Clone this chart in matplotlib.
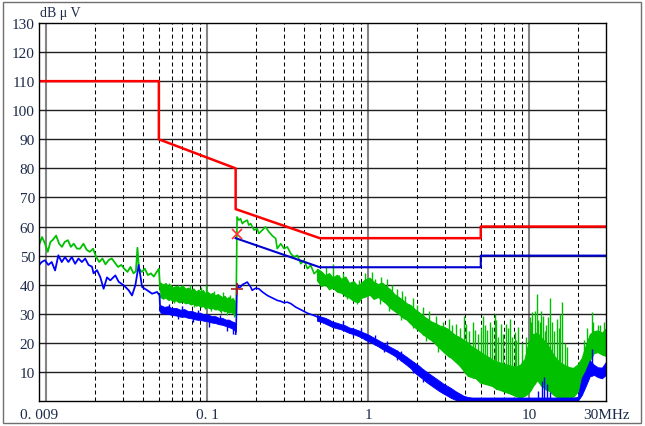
import matplotlib
matplotlib.use('Agg')
import numpy as np
import matplotlib.pyplot as plt
from matplotlib.patches import Rectangle

plt.rcParams['font.family'] = ['Liberation Serif', 'DejaVu Serif']

# limit lines (MHz, dBuV)
qp_f = [0.009, 0.05, 0.05, 0.15, 0.15, 0.5, 5, 5, 30]
qp_v = [110, 110, 90, 80, 66, 56, 56, 60, 60]
av_f = [0.15, 0.5, 5, 5, 30]
av_v = [56, 46, 46, 50, 50]

# peak trace (green)
pk_a_f = [0.0090, 0.0094, 0.0098, 0.0102, 0.0106, 0.0110, 0.0115, 0.0120, 0.0125, 0.0130,
          0.0136, 0.0142, 0.0148, 0.0155, 0.0162, 0.0170, 0.0178, 0.0186, 0.0195, 0.0204,
          0.0213, 0.0223, 0.0233, 0.0244, 0.0255, 0.0267, 0.0279, 0.0292, 0.0305, 0.0319,
          0.0333, 0.0348, 0.0360, 0.0368, 0.0376, 0.0392, 0.0409, 0.0427, 0.0446, 0.0465,
          0.0485, 0.0500, 0.0510]
pk_a_v = [53.6, 56.4, 54.2, 51.3, 54.7, 55.5, 56.9, 54.1, 53.0, 54.7,
          55.3, 53.0, 54.1, 52.4, 52.4, 54.1, 52.0, 51.3, 52.4, 49.5,
          47.8, 49.0, 47.0, 48.5, 49.0, 47.5, 46.1, 46.8, 45.5, 44.4,
          46.1, 43.9, 44.6, 52.7, 45.5, 44.4, 45.5, 43.3, 43.9, 42.8,
          44.4, 45.5, 38.0]

pk_b_f = [0.051, 0.053, 0.055, 0.057, 0.059, 0.061, 0.064, 0.067, 0.070, 0.073, 0.076,
          0.079, 0.082, 0.085, 0.088, 0.091, 0.094, 0.097, 0.100, 0.104, 0.108, 0.112,
          0.116, 0.120, 0.124, 0.128, 0.132, 0.136, 0.140, 0.144, 0.148, 0.150]
pk_b_hi = [40.8, 40.0, 40.6, 39.4, 40.0, 39.0, 39.6, 39.0, 39.8, 38.6, 39.0,
           38.2, 38.7, 37.6, 38.3, 37.6, 38.2, 37.0, 37.6, 36.8, 37.2, 36.3,
           36.8, 36.2, 35.6, 36.2, 35.2, 35.8, 35.0, 35.4, 34.2, 33.8]
pk_b_lo = [35.8, 35.2, 35.6, 34.8, 35.0, 34.4, 34.6, 33.9, 34.3, 33.6, 33.8,
           33.2, 33.5, 32.8, 33.0, 32.4, 32.7, 32.0, 32.3, 31.8, 32.0, 31.5,
           31.6, 31.0, 31.3, 30.8, 31.0, 30.4, 30.6, 30.2, 29.8, 29.6]

pk_c_f = [0.150, 0.151, 0.153, 0.157, 0.161, 0.165, 0.169, 0.177, 0.181, 0.186, 0.195,
          0.204, 0.209, 0.220, 0.230, 0.241, 0.254, 0.266, 0.272, 0.286, 0.300, 0.314,
          0.330, 0.346, 0.363, 0.381, 0.399, 0.419, 0.439, 0.461, 0.484, 0.507]
pk_c_v = [30.0, 31.0, 63.3, 62.2, 62.7, 61.0, 61.6, 62.2, 60.5, 61.0, 58.8,
          59.3, 57.6, 58.8, 59.9, 58.2, 56.8, 55.9, 52.4, 54.1, 52.4, 53.0,
          50.7, 49.5, 50.1, 47.2, 48.4, 45.5, 46.7, 43.8, 44.9, 42.6]

hf_f = [0.48, 0.51, 0.54, 0.57, 0.60, 0.64, 0.68, 0.72, 0.76, 0.81, 0.86, 0.91,
        0.96, 1.02, 1.08, 1.15, 1.22, 1.29, 1.37, 1.45, 1.54, 1.63, 1.73, 1.83,
        1.94, 2.06, 2.18, 2.31, 2.45, 2.60, 2.76, 2.92, 3.10, 3.28, 3.48, 3.69,
        3.91, 4.14, 4.39, 4.66, 4.94, 5.23, 5.55, 5.88, 6.23, 6.61, 7.00, 7.42,
        7.87, 8.34, 8.84, 9.37, 9.93, 10.5, 11.2, 11.8, 12.5, 13.3, 14.1, 14.9,
        15.8, 16.8, 17.8, 18.8, 20.0, 21.2, 22.4, 23.8, 25.2, 26.7, 28.3, 30.0]
pk_d_lo = [41.5, 39.5, 40.2, 38.4, 39.0, 37.6, 37.2, 36.1, 35.6, 34.4, 34.0, 35.5,
           36.0, 36.6, 35.1, 35.8, 34.6, 33.6, 32.0, 31.0, 30.0, 28.8, 28.0, 26.6,
           25.4, 24.2, 23.0, 22.0, 21.0, 19.8, 18.3, 17.0, 15.7, 14.8, 13.5, 12.2,
           10.4, 8.7, 8.2, 7.8, 6.4, 6.0, 5.6, 5.2, 4.2, 3.8, 3.2, 2.8,
           2.2, 1.6, 1.2, 1.8, 2.8, 5.0, 7.2, 5.5, 4.2, 3.5, 2.2, 1.3,
           0.8, 0.7, 0.9, 1.5, 3.2, 5.5, 9.5, 14.0, 16.5, 16.8, 16.0, 15.5]
pk_d_hi = [45.5, 44.6, 43.2, 44.0, 42.5, 43.4, 42.0, 42.8, 40.6, 41.2, 39.6, 40.8,
           41.9, 42.4, 41.0, 40.2, 40.7, 39.4, 38.4, 36.8, 35.8, 34.8, 33.6, 33.0,
           31.6, 30.6, 29.4, 28.4, 27.4, 26.8, 26.0, 25.6, 24.9, 23.8, 22.6, 22.0,
           21.0, 20.2, 18.8, 17.9, 17.0, 16.0, 15.2, 14.3, 13.6, 13.2, 12.8, 12.4,
           12.0, 11.8, 12.6, 14.5, 20.5, 23.0, 23.5, 22.0, 20.5, 18.5, 16.0, 14.2,
           13.0, 12.2, 11.6, 11.4, 12.6, 14.8, 19.0, 23.0, 24.0, 24.3, 23.5, 25.0]

pk_spike_f = [0.058, 0.066, 0.078, 0.092, 0.098, 0.110, 0.125, 0.138,
              0.55, 0.60, 0.66, 0.70, 0.88, 0.95, 1.05, 1.10, 1.20, 1.30, 1.40, 1.50,
              1.62, 1.70, 1.90, 2.00, 2.20, 2.40, 2.64, 2.90, 3.19, 3.30, 3.52, 3.70,
              3.96, 4.05, 4.20, 4.47, 4.60, 4.80, 5.00, 5.16, 5.30, 5.45, 5.67, 5.90,
              6.09, 6.20, 6.40, 6.71, 6.90, 7.21, 7.40, 7.56, 7.80, 8.12, 8.30, 8.52,
              9.00, 9.60, 10.06, 10.2, 10.4, 10.8, 11.1, 11.3, 11.6, 11.9, 12.2, 12.6,
              12.8, 13.0, 13.4, 13.8, 14.2, 14.8, 15.3, 15.6, 16.0, 16.6, 17.2,
              22.0, 23.0, 24.4, 25.0, 26.9, 27.5, 29.0]
pk_spike_v = [40.5, 40.0, 39.8, 39.2, 40.0, 37.8, 37.5, 36.5,
              46.0, 47.2, 43.5, 44.0, 41.5, 44.0, 44.5, 42.0, 42.6, 42.0, 40.0, 38.5,
              38.0, 36.0, 35.5, 33.0, 32.5, 31.0, 29.4, 27.0, 28.3, 26.0, 26.5, 25.0,
              29.4, 26.5, 24.0, 27.1, 24.5, 23.0, 25.0, 29.4, 26.0, 24.5, 27.1, 25.5,
              30.0, 28.0, 22.0, 26.6, 23.0, 26.6, 25.0, 28.3, 22.0, 23.7, 21.0, 25.4,
              20.0, 22.0, 28.8, 27.0, 30.5, 31.0, 36.9, 28.0, 27.0, 31.0, 29.4, 24.0,
              26.0, 29.0, 35.4, 27.0, 24.0, 28.3, 25.0, 30.0, 34.0, 20.0, 18.5,
              21.0, 25.0, 30.6, 27.0, 26.0, 26.0, 27.0]
pk_dip_f = [0.062, 0.083, 0.097, 0.105, 0.121, 0.133, 0.146,
            0.74, 0.85, 0.87, 1.18, 1.35, 1.60, 1.90, 2.30, 2.70]
pk_dip_v = [33.8, 32.4, 31.5, 30.8, 30.2, 29.6, 29.0,
            35.0, 33.5, 34.0, 33.5, 31.0, 28.0, 25.0, 20.8, 17.0]

# average trace (blue)
av_a_f = [0.0090, 0.00935, 0.0098, 0.01028, 0.01079, 0.01133, 0.01187, 0.01246, 0.01306,
          0.0137, 0.01439, 0.01509, 0.01583, 0.01662, 0.01743, 0.01828, 0.0192, 0.01964,
          0.02063, 0.02163, 0.02268, 0.02381, 0.02497, 0.02683, 0.02813, 0.03022, 0.03245,
          0.03406, 0.03572, 0.03747, 0.03934, 0.04226, 0.04539, 0.04875, 0.0505, 0.0510]
av_a_v = [46.7, 47.8, 48.4, 46.8, 47.8, 44.9, 50.1, 47.8, 49.5,
          47.8, 49.5, 47.2, 49.0, 47.8, 49.0, 46.8, 46.2, 43.9,
          45.0, 42.6, 38.6, 42.5, 41.5, 43.2, 41.0, 39.8, 38.1,
          36.3, 39.8, 46.8, 39.2, 38.1, 36.9, 37.5, 36.3, 31.0]

av_b_f = [0.051, 0.054, 0.057, 0.060, 0.064, 0.068, 0.072, 0.076, 0.080, 0.085, 0.090,
          0.095, 0.100, 0.106, 0.112, 0.118, 0.124, 0.130, 0.136, 0.142, 0.147, 0.150]
av_b_hi = [33.0, 32.4, 32.6, 32.0, 32.0, 31.4, 31.6, 30.9, 31.0, 30.4, 30.4,
           29.8, 29.9, 29.2, 29.2, 28.6, 28.6, 28.0, 28.0, 27.4, 27.1, 26.8]
av_b_lo = [30.4, 30.0, 30.0, 29.6, 29.4, 29.0, 29.0, 28.6, 28.4, 28.0, 27.9,
           27.6, 27.4, 27.0, 26.8, 26.4, 26.2, 25.8, 25.4, 25.0, 24.4, 23.8]

av_c_f = [0.150, 0.151, 0.153, 0.157, 0.161, 0.165, 0.169, 0.177, 0.186, 0.190, 0.200,
          0.209, 0.220, 0.236, 0.248, 0.259, 0.272, 0.286, 0.300, 0.314, 0.330, 0.354,
          0.381, 0.419, 0.461, 0.507]
av_c_v = [23.0, 24.5, 40.3, 39.0, 39.2, 40.0, 40.3, 40.9, 39.2, 38.1, 38.8,
          38.6, 37.5, 36.3, 35.7, 35.2, 34.6, 34.3, 33.8, 34.0, 33.5, 32.3,
          31.4, 30.2, 29.4, 28.4]

av_d_lo = [27.6, 27.2, 26.6, 26.0, 25.4, 25.0, 24.6, 24.0, 23.4, 23.0, 22.4, 21.8,
           21.0, 20.4, 19.6, 18.8, 17.9, 17.2, 16.4, 15.6, 14.6, 13.5, 12.4, 11.3,
           9.8, 8.6, 7.6, 6.4, 5.4, 4.4, 3.4, 2.6, 1.8, 1.0, 0.4, 0.0,
           0.0, 0.0, 0.0, 0.0, 0.0, 0.0, 0.0, 0.0, 0.0, 0.0, 0.0, 0.0,
           0.0, 0.0, 0.0, 0.0, 0.0, 0.0, 0.0, 0.0, 0.0, 0.0, 0.0, 0.0,
           0.0, 0.0, 0.0, 0.0, 0.0, 2.0, 5.0, 8.5, 9.0, 8.2, 7.8, 9.0]
av_d_hi = [29.6, 29.0, 28.6, 28.0, 27.3, 26.9, 26.4, 26.0, 25.3, 24.9, 24.4, 23.8,
           23.3, 22.6, 21.8, 21.0, 20.2, 19.4, 18.6, 17.9, 17.0, 16.2, 15.2, 14.2,
           13.2, 12.2, 11.0, 10.0, 9.0, 8.0, 7.0, 6.0, 5.2, 4.4, 3.4, 2.6,
           1.8, 1.4, 1.2, 1.2, 1.2, 1.2, 1.2, 1.2, 1.2, 1.2, 1.2, 1.2,
           1.2, 1.2, 1.2, 1.2, 1.2, 1.2, 1.2, 1.2, 1.2, 1.2, 1.2, 1.2,
           1.2, 1.2, 1.2, 1.2, 1.4, 8.0, 10.5, 14.0, 12.5, 11.6, 11.5, 13.5]

av_spike_f = [0.058, 0.070, 0.088, 0.120, 0.70, 0.90, 1.10, 1.30, 1.60,
              11.4, 12.0, 12.3, 12.9, 13.4, 24.4]
av_spike_v = [33.5, 32.6, 31.2, 29.5, 27.5, 25.0, 22.8, 20.5, 17.2,
              3.5, 7.0, 8.3, 6.0, 3.0, 17.9]
av_dip_f = [0.066, 0.082, 0.103, 0.132, 0.145, 0.80, 1.00, 1.25, 1.50, 1.90, 2.20]
av_dip_v = [28.2, 27.0, 25.6, 24.0, 23.0, 22.4, 19.8, 16.8, 14.2, 9.8, 6.6]

# final scan markers
mk_f = 0.152
mk_qp = 57.6
mk_av = 38.4

green = '#00c000'
blue = '#0000ff'
txt = '#1c2a4a'


def band_edge(f, band_f, band_v):
    # band edge under/over a spike, used only to anchor the spike segment
    return np.interp(np.log10(f), np.log10(band_f), band_v)


fig = plt.figure(figsize=(6.45, 4.27), dpi=100)
fig.patches.append(Rectangle((0.004, 0.006), 0.99, 0.988, transform=fig.transFigure,
                             fill=False, edgecolor='#707070', lw=1.0))
ax = fig.add_axes([39 / 645, 25 / 427, 567 / 645, 378 / 427])
ax.set_xscale('log')
ax.set_xlim(0.009, 30)
ax.set_ylim(0, 130)

# grid
for d in [0.01, 0.1, 1, 10]:
    ax.axvline(d, color='#858585', lw=1.5, zorder=1)
for d in [0.01, 0.1, 1]:
    for m in range(2, 10):
        ax.axvline(d * m, color='black', lw=0.75, ls=(0, (3.8, 2.9)), zorder=1)
ax.axvline(20, color='black', lw=0.75, ls=(0, (3.8, 2.9)), zorder=1)
for y in range(10, 130, 10):
    ax.axhline(y, color='#202020', lw=1.0, zorder=1)

# peak trace
band_f = pk_b_f + hf_f
band_lo = pk_b_lo + pk_d_lo
band_hi = pk_b_hi + pk_d_hi
ax.plot(pk_a_f, pk_a_v, color=green, lw=1.3, zorder=2)
ax.fill_between(pk_b_f, pk_b_lo, pk_b_hi, color=green, lw=0.8, zorder=2)
ax.plot(pk_c_f, pk_c_v, color=green, lw=1.2, zorder=2)
ax.fill_between(hf_f, pk_d_lo, pk_d_hi, color=green, lw=0.8, zorder=2)
ax.vlines(pk_spike_f, band_edge(pk_spike_f, band_f, band_lo), pk_spike_v,
          color=green, lw=1.0, zorder=2)
ax.vlines(pk_dip_f, pk_dip_v, band_edge(pk_dip_f, band_f, band_hi),
          color=green, lw=1.0, zorder=2)

# average trace
aband_f = av_b_f + hf_f
aband_lo = av_b_lo + av_d_lo
aband_hi = av_b_hi + av_d_hi
ax.plot(av_a_f, av_a_v, color=blue, lw=1.3, zorder=3)
ax.fill_between(av_b_f, av_b_lo, av_b_hi, color=blue, lw=0.6, zorder=3)
ax.plot(av_c_f, av_c_v, color=blue, lw=1.2, zorder=3)
ax.fill_between(hf_f, av_d_lo, av_d_hi, color=blue, lw=0.6, zorder=3)
ax.vlines(av_spike_f, band_edge(av_spike_f, aband_f, aband_lo), av_spike_v,
          color=blue, lw=1.0, zorder=3)
ax.vlines(av_dip_f, av_dip_v, band_edge(av_dip_f, aband_f, aband_hi),
          color=blue, lw=1.0, zorder=3)

# limits
ax.plot(qp_f, qp_v, color='#ff0000', lw=1.8, zorder=4)
ax.plot(av_f, av_v, color='#0000d0', lw=1.5, zorder=4)
ax.plot([mk_f], [mk_qp], marker='x', ms=7, mew=1.2, color='#ff3030', zorder=5)
ax.plot([mk_f], [mk_av], marker='+', ms=8, mew=1.2, color='#b02020', zorder=5)

# ticks
ax.xaxis.set_minor_locator(matplotlib.ticker.NullLocator())
ax.set_xticks([0.009, 0.1, 1, 10, 30])
ax.set_xticklabels(['0. 009', '0. 1', '1', '10', '30MHz'])
ax.set_yticks(range(10, 140, 10))
ax.tick_params(length=0, labelsize=11, labelcolor=txt)
ax.tick_params(axis='y', pad=3)
ax.tick_params(axis='x', pad=5)
for s in ax.spines.values():
    s.set_linewidth(1.0)
    s.set_zorder(6)
ax.text(0.002, 1.01, 'dB μ V', transform=ax.transAxes, fontsize=10,
        color=txt, ha='left', va='bottom')

fig.savefig('out.png', dpi=100)
